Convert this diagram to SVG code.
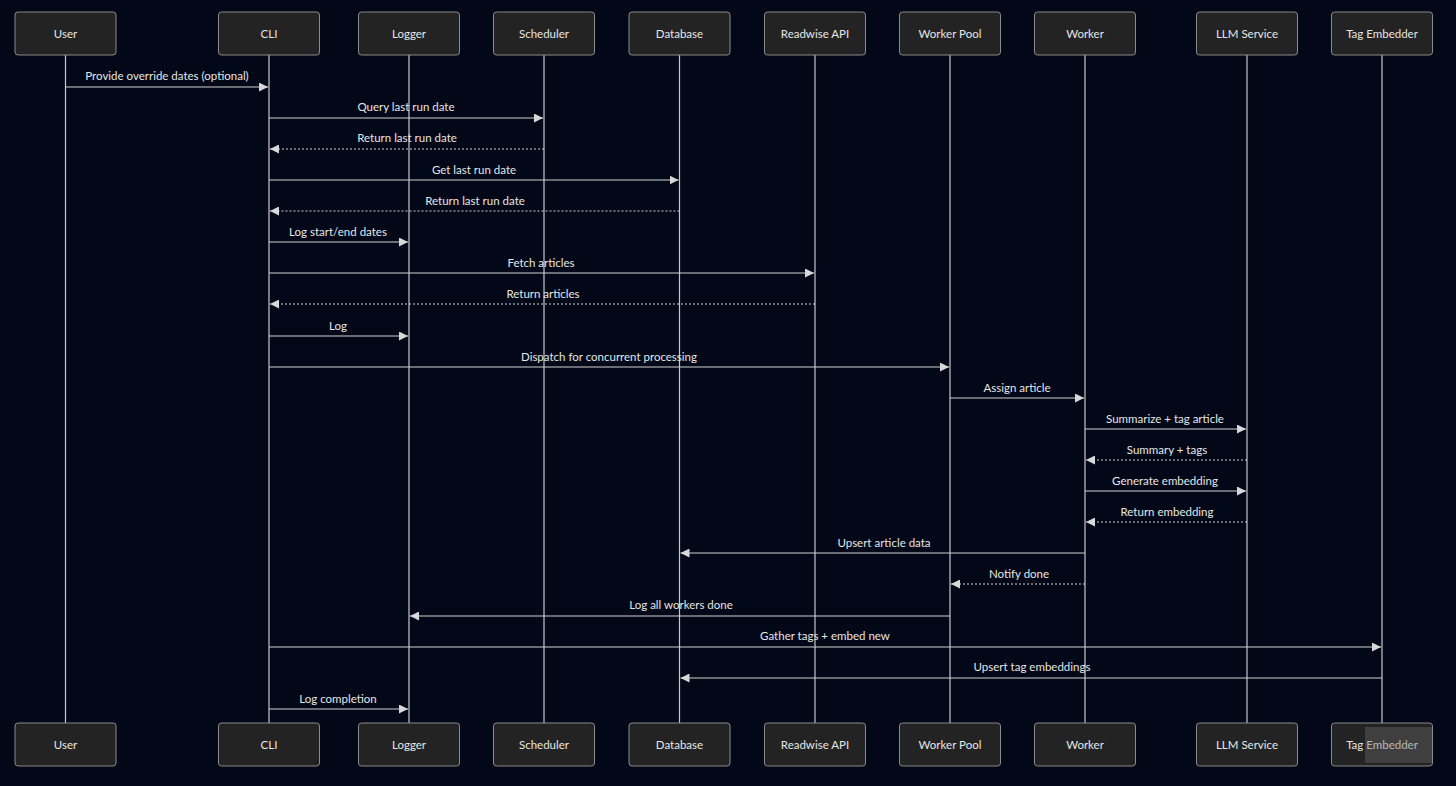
<svg xmlns="http://www.w3.org/2000/svg" width="1456" height="786" viewBox="0 0 1456 786">
<defs>
<marker id="ah" viewBox="0 0 10 10" refX="10" refY="5" markerWidth="9" markerHeight="9" markerUnits="userSpaceOnUse" orient="auto">
<path d="M0,0 L10,5 L0,10 z" fill="#d8d8d8"/>
</marker>
<style>
.bg{fill:#020817}
.box{fill:#232323;stroke:#8a8a8a;stroke-width:1}
.life{stroke:#c8c8c8;stroke-width:1.2}
.t{font-family:"Trebuchet MS",Lato,"Open Sans",sans-serif;font-size:11.5px;fill:#e6e6e6;text-anchor:middle}
.m{stroke:#d0d0d0;stroke-width:1.2;fill:none;marker-end:url(#ah)}
.d{stroke-dasharray:2,2}
</style>
</defs>
<rect class="bg" x="0" y="0" width="1456" height="786"/>
<g id="lifelines">
<line class="life" x1="65.5" y1="55" x2="65.5" y2="723"/>
<line class="life" x1="269" y1="55" x2="269" y2="723"/>
<line class="life" x1="409" y1="55" x2="409" y2="723"/>
<line class="life" x1="544" y1="55" x2="544" y2="723"/>
<line class="life" x1="679.5" y1="55" x2="679.5" y2="723"/>
<line class="life" x1="815" y1="55" x2="815" y2="723"/>
<line class="life" x1="950" y1="55" x2="950" y2="723"/>
<line class="life" x1="1085" y1="55" x2="1085" y2="723"/>
<line class="life" x1="1247" y1="55" x2="1247" y2="723"/>
<line class="life" x1="1382" y1="55" x2="1382" y2="723"/>
</g>
<g id="user"><rect class="box" x="15" y="12" width="101" height="43" rx="3"/><text class="t" x="65.5" y="38">User</text><rect class="box" x="15" y="723" width="101" height="43" rx="3"/><text class="t" x="65.5" y="749">User</text></g>
<g id="cli"><rect class="box" x="218.5" y="12" width="101" height="43" rx="3"/><text class="t" x="269" y="38">CLI</text><rect class="box" x="218.5" y="723" width="101" height="43" rx="3"/><text class="t" x="269" y="749">CLI</text></g>
<g id="logger"><rect class="box" x="358.5" y="12" width="101" height="43" rx="3"/><text class="t" x="409" y="38">Logger</text><rect class="box" x="358.5" y="723" width="101" height="43" rx="3"/><text class="t" x="409" y="749">Logger</text></g>
<g id="scheduler"><rect class="box" x="493.5" y="12" width="101" height="43" rx="3"/><text class="t" x="544" y="38">Scheduler</text><rect class="box" x="493.5" y="723" width="101" height="43" rx="3"/><text class="t" x="544" y="749">Scheduler</text></g>
<g id="database"><rect class="box" x="629" y="12" width="101" height="43" rx="3"/><text class="t" x="679.5" y="38">Database</text><rect class="box" x="629" y="723" width="101" height="43" rx="3"/><text class="t" x="679.5" y="749">Database</text></g>
<g id="readwise"><rect class="box" x="764.5" y="12" width="101" height="43" rx="3"/><text class="t" x="815" y="38">Readwise API</text><rect class="box" x="764.5" y="723" width="101" height="43" rx="3"/><text class="t" x="815" y="749">Readwise API</text></g>
<g id="workerpool"><rect class="box" x="899.5" y="12" width="101" height="43" rx="3"/><text class="t" x="950" y="38">Worker Pool</text><rect class="box" x="899.5" y="723" width="101" height="43" rx="3"/><text class="t" x="950" y="749">Worker Pool</text></g>
<g id="worker"><rect class="box" x="1034.5" y="12" width="101" height="43" rx="3"/><text class="t" x="1085" y="38">Worker</text><rect class="box" x="1034.5" y="723" width="101" height="43" rx="3"/><text class="t" x="1085" y="749">Worker</text></g>
<g id="llm"><rect class="box" x="1196.5" y="12" width="101" height="43" rx="3"/><text class="t" x="1247" y="38">LLM Service</text><rect class="box" x="1196.5" y="723" width="101" height="43" rx="3"/><text class="t" x="1247" y="749">LLM Service</text></g>
<g id="tagembedder"><rect class="box" x="1331.5" y="12" width="101" height="43" rx="3"/><text class="t" x="1382" y="38">Tag Embedder</text><rect class="box" x="1331.5" y="723" width="101" height="43" rx="3"/><text class="t" x="1382" y="749">Tag Embedder</text></g>
<g id="connectors">
<line class="m" x1="65.5" y1="87" x2="268" y2="87"/><text class="t" x="167" y="80">Provide override dates (optional)</text>
<line class="m" x1="269" y1="118" x2="543" y2="118"/><text class="t" x="406" y="111">Query last run date</text>
<line class="m d" x1="544" y1="149" x2="270" y2="149"/><text class="t" x="407" y="142">Return last run date</text>
<line class="m" x1="269" y1="180" x2="678.5" y2="180"/><text class="t" x="474" y="174">Get last run date</text>
<line class="m d" x1="679.5" y1="211" x2="270" y2="211"/><text class="t" x="475" y="205">Return last run date</text>
<line class="m" x1="269" y1="242" x2="408" y2="242"/><text class="t" x="338" y="236">Log start/end dates</text>
<line class="m" x1="269" y1="273" x2="814" y2="273"/><text class="t" x="541" y="267">Fetch articles</text>
<line class="m d" x1="815" y1="304" x2="270" y2="304"/><text class="t" x="543" y="298">Return articles</text>
<line class="m" x1="269" y1="336" x2="408" y2="336"/><text class="t" x="338" y="330">Log</text>
<line class="m" x1="269" y1="367" x2="949" y2="367"/><text class="t" x="609" y="361">Dispatch for concurrent processing</text>
<line class="m" x1="950" y1="398" x2="1084" y2="398"/><text class="t" x="1017" y="392">Assign article</text>
<line class="m" x1="1085" y1="429" x2="1246" y2="429"/><text class="t" x="1165" y="423">Summarize + tag article</text>
<line class="m d" x1="1247" y1="460" x2="1086" y2="460"/><text class="t" x="1167" y="454">Summary + tags</text>
<line class="m" x1="1085" y1="491" x2="1246" y2="491"/><text class="t" x="1165" y="485">Generate embedding</text>
<line class="m d" x1="1247" y1="522" x2="1086" y2="522"/><text class="t" x="1167" y="516">Return embedding</text>
<line class="m" x1="1085" y1="553" x2="680.5" y2="553"/><text class="t" x="884" y="547">Upsert article data</text>
<line class="m d" x1="1085" y1="584" x2="951" y2="584"/><text class="t" x="1019" y="578">Notify done</text>
<line class="m" x1="950" y1="616" x2="410" y2="616"/><text class="t" x="681" y="609">Log all workers done</text>
<line class="m" x1="269" y1="647" x2="1381" y2="647"/><text class="t" x="825" y="640">Gather tags + embed new</text>
<line class="m" x1="1382" y1="678" x2="680.5" y2="678"/><text class="t" x="1032" y="671">Upsert tag embeddings</text>
<line class="m" x1="269" y1="709" x2="408" y2="709"/><text class="t" x="338" y="703">Log completion</text>
</g>
<g id="watermark"><rect x="1365" y="727" width="67" height="36" fill="#6a6a6a" opacity="0.4"/></g>
</svg>
